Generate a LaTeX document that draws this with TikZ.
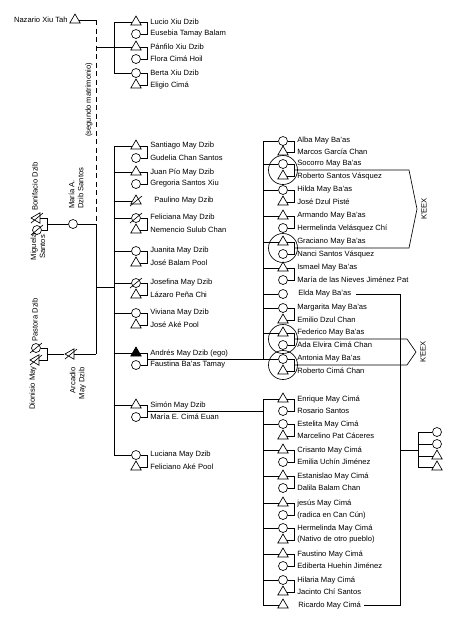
\documentclass[tikz,border=0pt]{standalone}
\usepackage{fontspec}
\setmainfont{Liberation Sans}
\usetikzlibrary{shapes.geometric}
\tikzset{
  tri/.style={draw, regular polygon, regular polygon sides=3, minimum size=12pt, inner sep=0pt},
  ltri/.style={tri, shape border rotate=90},
  ftri/.style={tri, fill=black},
  circ/.style={draw, circle, minimum size=9pt, inner sep=0pt},
  ring/.style={draw, circle, minimum size=29pt, inner sep=0pt},
  lbl/.style={anchor=west, inner sep=0pt, font=\fontsize{7.6}{9}\selectfont},
  rlbl/.style={inner sep=0pt, rotate=90, font=\fontsize{7.6}{9}\selectfont},
  kdash/.style={dash pattern=on 5pt off 3.5pt},
}
\newcommand\KinPair[8]{%
  \node[#5] (#1a) at (#2,#3) {};
  \node[#6] (#1b) at (#2,#4) {};
  \node[lbl] (#1ta) at ({#2+14},#3) {#7};
  \node[lbl] (#1tb) at ({#2+14},#4) {#8};
  \coordinate (#1m) at ({#2+11},{(#3+#4)/2});
  \draw (#1a.east) -- ({#2+11},#3) -- ({#2+11},#4) -- (#1b.east);
}
\newcommand\KinDead[1]{\draw (#1.center) ++(-6,5) -- ++(12,-10);}
\begin{document}
\begin{tikzpicture}[x=1pt,y=-1pt,line width=0.65pt]
\useasboundingbox (0,0) rectangle (450,625);

% ---------- Nazario and the Xiu children ----------
\node[tri] (naz) at (75,20) {};
\node[lbl, anchor=east] (nazt) at (68,20) {Nazario Xiu Tah};
\coordinate (dtop) at (96,20);
\coordinate (dxiu) at (96,47);
\coordinate (dmar) at (96,224);
\coordinate (dmay) at (96,287);
\coordinate (darc) at (96,354);
\draw (naz.east) -- (dtop);
\draw[kdash] (dtop) -- (dmar);
\draw (dmar) -- (darc);
\node[rlbl] (segt) at (89,100) {(segundo matrimonio)};

\KinPair{luc}{136}{22}{34}{tri}{circ}{Lucio Xiu Dzib}{Eusebia Tamay Balam}
\KinPair{pan}{136}{47}{59}{tri}{circ}{Pánfilo Xiu Dzib}{Flora Cimá Hoil}
\KinPair{ber}{136}{73}{85}{circ}{tri}{Berta Xiu Dzib}{Eligio Cimá}
\draw (114,22) -- (114,73);
\draw (114,22) -- (luca.west);
\draw (dxiu) -- (pana.west);
\draw (114,73) -- (bera.west);

% ---------- left, rotated generation ----------
\node[ltri] (bon) at (37,218) {};
\node[circ] (mig) at (37,230) {};
\KinDead{bon}\KinDead{mig}
\draw (bon.east) -- (47,218) -- (47,230) -- (mig.east);
\coordinate (bonm) at (47,224);
\node[circ] (mar) at (73,224) {};
\draw (bonm) -- (mar.west);
\draw (mar.east) -- (dmar);
\node[rlbl, anchor=west] (bont) at (35,211) {Bonifacio Dzib};
\node[rlbl, align=center] (migt) at (38,247) {Miguela\\Santos};
\node[rlbl, align=left, anchor=west] (mart) at (76,209) {María A.\\Dzib Santos};

\node[circ] (pas) at (36,348) {};
\node[ltri] (dio) at (36,360) {};
\KinDead{pas}\KinDead{dio}
\draw (pas.east) -- (47,348) -- (47,360) -- (dio.east);
\coordinate (pasm) at (47,354);
\node[ltri] (arc) at (71,354) {};
\KinDead{arc}
\draw (pasm) -- (arc.west);
\draw (arc.east) -- (darc);
\node[rlbl, anchor=west] (past) at (35,342) {Pastora Dzib};
\node[rlbl, anchor=east] (diot) at (33,366) {Dionisio May};
\node[rlbl, align=right, anchor=east] (arct) at (78,367) {Arcadio\\May Dzib};

% ---------- May Dzib children ----------
\KinPair{san}{136}{146}{158}{tri}{circ}{Santiago May Dzib}{Gudelia Chan Santos}
\KinPair{jpi}{136}{172}{184}{tri}{circ}{Juan Pío May Dzib}{Gregoria Santos Xiu}
\node[tri] (pau) at (136,201) {};
\KinDead{pau}
\node[lbl] (paut) at (154,201) {Paulino May Dzib};
\KinPair{fel}{136}{218}{230}{circ}{tri}{Feliciana May Dzib}{Nemencio Sulub Chan}
\KinDead{fela}
\KinPair{jun}{136}{251}{263}{circ}{tri}{Juanita May Dzib}{José Balam Pool}
\KinPair{jos}{136}{283}{295}{circ}{tri}{Josefina May Dzib}{Lázaro Peña Chi}
\KinDead{josa}
\KinPair{viv}{136}{313}{325}{circ}{tri}{Viviana May Dzib}{José Aké Pool}
\KinPair{and}{136}{353}{365}{ftri}{circ}{Andrés May Dzib (ego)}{Faustina Ba’as Tamay}
\KinPair{sim}{136}{405}{417}{tri}{circ}{Simón May Dzib}{María E. Cimá Euan}
\KinPair{lca}{136}{455}{467}{circ}{tri}{Luciana May Dzib}{Feliciano Aké Pool}
\draw (114,146) -- (114,455);
\draw (dmay) -- (114,287);
\draw (114,146) -- (sana.west);
\draw (114,172) -- (jpia.west);
\draw (114,201) -- (pau.west);
\draw (114,218) -- (fela.west);
\draw (114,251) -- (juna.west);
\draw (114,283) -- (josa.west);
\draw (114,313) -- (viva.west);
\draw (114,353) -- (anda.west);
\draw (114,405) -- (sima.west);
\draw (114,455) -- (lcaa.west);

% ---------- May Ba'as children ----------
\KinPair{alb}{283}{141}{152}{circ}{tri}{Alba May Ba’as}{Marcos García Chan}
\KinPair{soc}{283}{164}{176}{circ}{tri}{Socorro May Ba’as}{Roberto Santos Vásquez}
\KinPair{hil}{283}{190}{202}{circ}{tri}{Hilda May Ba’as}{José Dzul Pisté}
\KinPair{arm}{283}{216}{228}{tri}{circ}{Armando May Ba’as}{Hermelinda Velásquez Chí}
\KinPair{gra}{283}{242}{254}{tri}{circ}{Graciano May Ba’as}{Nanci Santos Vásquez}
\KinPair{ism}{283}{268}{280}{tri}{circ}{Ismael May Ba’as}{María de las Nieves Jiménez Pat}
\node[circ] (eld) at (283,294) {};
\node[lbl] (eldt) at (298,294) {Elda May Ba’as};
\KinPair{mrg}{283}{308}{320}{circ}{tri}{Margarita May Ba’as}{Emilio Dzul Chan}
\KinPair{fed}{283}{333}{345}{tri}{circ}{Federico May Ba’as}{Ada Elvira Cimá Chan}
\KinPair{ant}{283}{359}{371}{circ}{tri}{Antonia May Ba’as}{Roberto Cimá Chan}
\draw (263,141) -- (263,359);
\draw (263,141) -- (alba.west);
\draw (263,164) -- (soca.west);
\draw (263,190) -- (hila.west);
\draw (263,216) -- (arma.west);
\draw (263,242) -- (graa.west);
\draw (263,268) -- (isma.west);
\draw (263,294) -- (eld.west);
\draw (263,308) -- (mrga.west);
\draw (263,333) -- (feda.west);
\draw (andm) -- (anta.west);

\node[ring] (socr) at (283,170) {};
\node[ring] (grar) at (283,248) {};
\node[ring] (fedr) at (283,339) {};
\node[ring] (antr) at (283,365) {};

% K'EEX exchanges
\draw (socm) -- (409,170) -- (417,209) -- (409,248) -- (gram);
\node[rlbl] (kx1) at (424,209) {K’EEX};
\draw (fedm) -- (407,339) -- (416,352) -- (407,365) -- (antm);
\node[rlbl] (kx2) at (423,352) {K’EEX};

% ---------- May Cima children ----------
\KinPair{enr}{283}{399}{411}{tri}{circ}{Enrique May Cimá}{Rosario Santos}
\KinPair{est}{283}{424}{436}{circ}{tri}{Estelita May Cimá}{Marcelino Pat Cáceres}
\KinPair{cri}{283}{450}{462}{tri}{circ}{Crisanto May Cimá}{Emilia Uchín Jiménez}
\KinPair{etn}{283}{476}{488}{tri}{circ}{Estanislao May Cimá}{Dalila Balam Chan}
\KinPair{jes}{283}{503}{515}{tri}{circ}{jesús May Cimá}{(radica en Can Cún)}
\KinPair{her}{283}{528}{540}{circ}{tri}{Hermelinda May Cimá}{(Nativo de otro pueblo)}
\KinPair{fau}{283}{554}{566}{tri}{circ}{Faustino May Cimá}{Ediberta Huehin Jiménez}
\KinPair{hla}{283}{580}{592}{circ}{tri}{Hilaria May Cimá}{Jacinto Chí Santos}
\node[tri] (ric) at (283,605) {};
\node[lbl] (rict) at (298,605) {Ricardo May Cimá};
\draw (263,399) -- (263,605);
\draw (simm) -- (263,411);
\draw (263,399) -- (enra.west);
\draw (263,424) -- (esta.west);
\draw (263,450) -- (cria.west);
\draw (263,476) -- (etna.west);
\draw (263,503) -- (jesa.west);
\draw (263,528) -- (hera.west);
\draw (263,554) -- (faua.west);
\draw (263,580) -- (hlaa.west);
\draw (263,605) -- (ric.west);

% ---------- Elda + Ricardo and children ----------
\coordinate (ebr) at (400,450);
\draw ([xshift=5pt]eldt.east) -- (400,294) -- (400,605) -- ([xshift=3pt]rict.east);
\node[circ] (k1) at (437,432) {};
\node[circ] (k2) at (437,444) {};
\node[tri] (k3) at (437,456) {};
\node[tri] (k4) at (437,467) {};
\draw (ebr) -- (418,450);
\draw (418,432) -- (418,467);
\draw (418,432) -- (k1.west);
\draw (418,444) -- (k2.west);
\draw (418,456) -- (k3.west);
\draw (418,467) -- (k4.west);
\end{tikzpicture}
\end{document}
